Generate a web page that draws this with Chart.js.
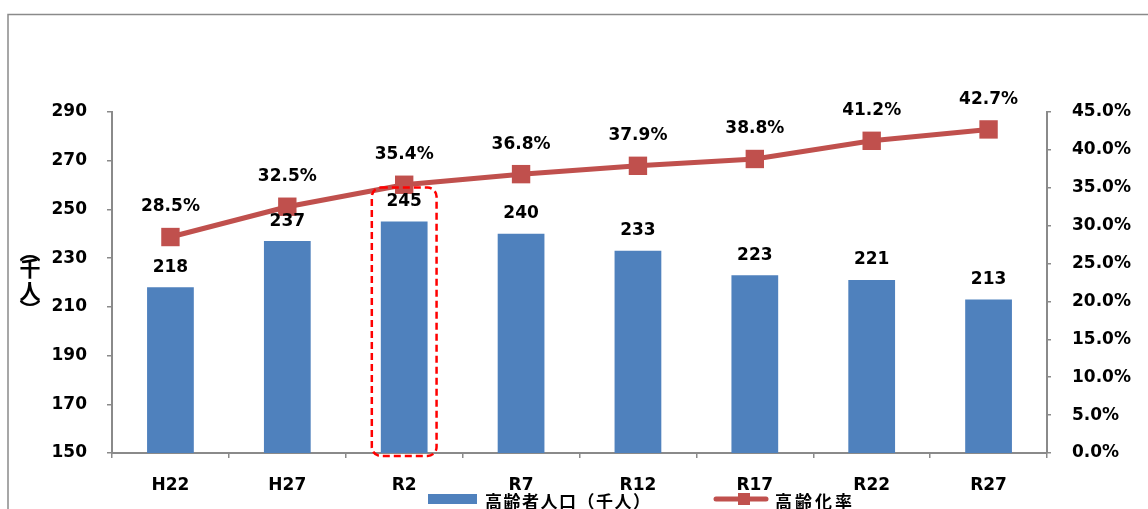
<!DOCTYPE html>
<html>
<head>
<meta charset="utf-8">
<script src="https://cdn.jsdelivr.net/npm/chart.js@4.4.1/dist/chart.umd.min.js"></script>
<style>
html,body{margin:0;padding:0;background:#fff;}
#wrap{width:1148px;height:509px;position:relative;}
</style>
</head>
<body>
<div id="wrap"><canvas id="c" width="1148" height="509"></canvas></div>
<script>
const categories = ['H22','H27','R2','R7','R12','R17','R22','R27'];
const elderlyPopulation = [218, 237, 245, 240, 233, 223, 221, 213]; // 千人
const agingRate = [28.5, 32.5, 35.4, 36.8, 37.9, 38.8, 41.2, 42.7]; // %
const popTicks = {min:150, max:290, step:20};
const rateTicks = {min:0, max:45, step:5};
const seriesNames = ['高齢者人口（千人）', '高齢化率'];
const axisTitleChars = ['︵','千','人','︶'];
const highlightIndex = 2;

const BLUE = '#4F81BD', RED = '#C0504D', GRAY = '#8a8a8a';
const FONT = '"DejaVu Sans", "Noto Sans CJK JP", sans-serif';
const JFONT = '"Noto Sans CJK JP", "DejaVu Sans", sans-serif';

const overlay = {
  id: 'overlay',
  afterDatasetsDraw(chart) {
    const ctx = chart.ctx;
    ctx.save();
    ctx.fillStyle = '#000';
    ctx.font = 'bold 17px ' + FONT;
    ctx.textAlign = 'center';
    ctx.textBaseline = 'middle';
    const barMeta = chart.getDatasetMeta(1);
    barMeta.data.forEach((el, i) => ctx.fillText(String(elderlyPopulation[i]), el.x, el.y - 20));
    const lineMeta = chart.getDatasetMeta(0);
    lineMeta.data.forEach((el, i) => ctx.fillText(agingRate[i].toFixed(1) + '%', el.x, el.y - 30));
    // highlight box
    const hb = barMeta.data[highlightIndex];
    const half = hb.width / 2 + 9;
    const top = hb.y - 34;
    const bottom = chart.scales.x.top + 3;
    ctx.strokeStyle = '#ff0000';
    ctx.lineWidth = 2.5;
    ctx.setLineDash([7, 4]);
    ctx.beginPath();
    ctx.roundRect(hb.x - half, top, half * 2, bottom - top, 9);
    ctx.stroke();
    ctx.restore();
  },
  afterDraw(chart) {
    const ctx = chart.ctx;
    ctx.save();
    // outer frame
    ctx.strokeStyle = '#8a8a8a';
    ctx.lineWidth = 1.5;
    ctx.strokeRect(8, 14.5, 1300, 700);
    // axis title (vertical stacked)
    ctx.fillStyle = '#000';
    ctx.font = 'bold 21px ' + JFONT;
    ctx.textAlign = 'center';
    ctx.textBaseline = 'middle';
    const ys = [251, 268, 291, 309];
    axisTitleChars.forEach((ch, i) => ctx.fillText(ch, 30, ys[i]));
    // legend
    const ly = 499;
    ctx.fillStyle = chart.data.datasets[1].backgroundColor;
    ctx.fillRect(428, ly - 5, 49, 10);
    ctx.fillStyle = '#000';
    ctx.font = 'bold 17px ' + JFONT;
    ctx.textAlign = 'left';
    ctx.letterSpacing = '1.5px';
    ctx.fillText(chart.data.datasets[1].label, 485, ly + 3);
    ctx.strokeStyle = chart.data.datasets[0].borderColor;
    ctx.lineWidth = 5;
    ctx.lineCap = 'round';
    ctx.beginPath();
    ctx.moveTo(716, ly); ctx.lineTo(766, ly);
    ctx.stroke();
    ctx.fillStyle = chart.data.datasets[0].borderColor;
    ctx.fillRect(738, ly - 6, 12, 12);
    ctx.fillStyle = '#000';
    ctx.letterSpacing = '3px';
    ctx.fillText(chart.data.datasets[0].label, 775, ly + 3);
    ctx.restore();
  }
};

new Chart(document.getElementById('c'), {
  type: 'bar',
  data: {
    labels: categories,
    datasets: [
      {
        type: 'line',
        label: seriesNames[1],
        data: agingRate,
        yAxisID: 'y1',
        borderColor: RED,
        backgroundColor: RED,
        borderWidth: 5,
        pointStyle: 'rect',
        pointRadius: 13,
        pointHoverRadius: 13,
        pointBackgroundColor: RED,
        pointBorderWidth: 0,
        tension: 0,
        order: 0
      },
      {
        type: 'bar',
        label: seriesNames[0],
        data: elderlyPopulation,
        yAxisID: 'y',
        backgroundColor: BLUE,
        barPercentage: 0.40,
        categoryPercentage: 1.0,
        order: 1
      }
    ]
  },
  options: {
    responsive: false,
    animation: false,
    layout: {padding: {top: 112, left: 0, right: 0, bottom: 0}},
    plugins: {legend: {display: false}, tooltip: {enabled: false}},
    scales: {
      x: {
        afterFit(s) { s.height = 56; },
        grid: {display: true, drawOnChartArea: false, drawTicks: true, tickLength: 5, color: GRAY, lineWidth: 1.5, offset: true},
        border: {color: GRAY, width: 2},
        ticks: {color: '#000', font: {family: FONT, size: 17, weight: 'bold'}, padding: 17}
      },
      y: {
        position: 'left',
        min: popTicks.min, max: popTicks.max,
        afterFit(s) { s.width = 112; },
        grid: {display: true, drawOnChartArea: false, tickLength: 5, color: GRAY, lineWidth: 1.5},
        border: {color: GRAY, width: 2},
        ticks: {stepSize: popTicks.step, color: '#000', font: {family: FONT, size: 17, weight: 'bold'}, padding: 20}
      },
      y1: {
        position: 'right',
        min: rateTicks.min, max: rateTicks.max,
        afterFit(s) { s.width = 101; },
        grid: {display: true, drawOnChartArea: false, tickLength: 4, color: GRAY, lineWidth: 1.5},
        border: {color: GRAY, width: 2},
        ticks: {stepSize: rateTicks.step, color: '#000', font: {family: FONT, size: 17, weight: 'bold'}, padding: 21,
          callback: v => Number(v).toFixed(1) + '%'}
      }
    }
  },
  plugins: [overlay]
});
</script>
</body>
</html>
